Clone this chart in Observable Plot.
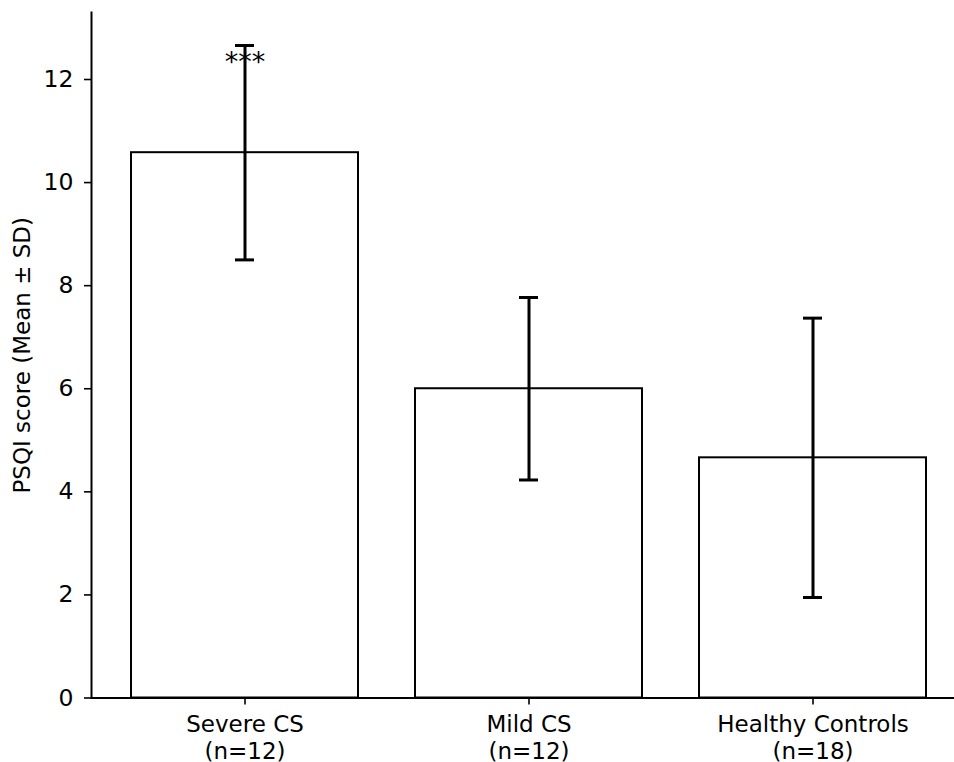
<!DOCTYPE html>
<html>
<head>
<meta charset="utf-8">
<script src="https://cdn.jsdelivr.net/npm/d3@7"></script>
<script src="https://cdn.jsdelivr.net/npm/@observablehq/plot@0.6"></script>
<style>
  html, body { margin: 0; padding: 0; background: white; }
  svg { display: block; }
</style>
</head>
<body>
<div id="chart"></div>
<script>
const groups = ["Severe CS", "Mild CS", "Healthy Controls"];
const nLabels = ["(n=12)", "(n=12)", "(n=18)"];
const means = [10.58, 6.0, 4.66];
const sds = [2.08, 1.77, 2.71];
const sigLabels = ["***", "", ""];
const yTicks = [0, 2, 4, 6, 8, 10, 12];

const data = groups.map((g, i) => ({
  group: g, n: nLabels[i], mean: means[i], sd: sds[i],
  lo: means[i] - sds[i], hi: means[i] + sds[i], sig: sigLabels[i]
}));

const chart = Plot.plot({
  width: 954,
  height: 762,
  marginLeft: 91,
  marginRight: 0,
  marginTop: 12,
  marginBottom: 64.5,
  style: { fontFamily: "DejaVu Sans", fontSize: "23.5px", color: "black", background: "white", overflow: "visible" },
  x: { domain: groups, range: [91, 967], paddingInner: 0.2, paddingOuter: 0.142, label: null },
  y: { domain: [0, 13.3], label: null },
  marks: [
    Plot.barY(data, { x: "group", y: "mean", fill: "white", stroke: "black", strokeWidth: 2 }),
    Plot.ruleX(data, { x: "group", y1: "lo", y2: "hi", stroke: "black", strokeWidth: 3 }),
    Plot.tickY(data, { x: "group", y: "lo", stroke: "black", strokeWidth: 3, insetLeft: 104, insetRight: 104 }),
    Plot.tickY(data, { x: "group", y: "hi", stroke: "black", strokeWidth: 3, insetLeft: 104, insetRight: 104 }),
    Plot.text(data, { x: "group", y: "hi", text: "sig", fontSize: 27, lineAnchor: "bottom", dy: 26, fill: "black" }),
    Plot.ruleY([0], { stroke: "black", strokeWidth: 2 }),
    Plot.frame({ anchor: "left", stroke: "black", strokeWidth: 2 }),
    Plot.axisY({ ticks: yTicks, tickSize: 7, tickPadding: 11, fontSize: 23.5, strokeWidth: 1.6, label: null }),
    Plot.axisX({
      tickSize: 7, tickPadding: 7.5, fontSize: 23, strokeWidth: 1.6, lineHeight: 1.17, label: null,
      tickFormat: (d) => d + "\n" + nLabels[groups.indexOf(d)]
    }),
    Plot.text(["PSQI score (Mean ± SD)"], { frameAnchor: "left", textAnchor: "middle", lineAnchor: "middle", rotate: -90, dx: -69, fontSize: 23, fill: "black" })
  ]
});
document.getElementById("chart").appendChild(chart);
</script>
</body>
</html>
